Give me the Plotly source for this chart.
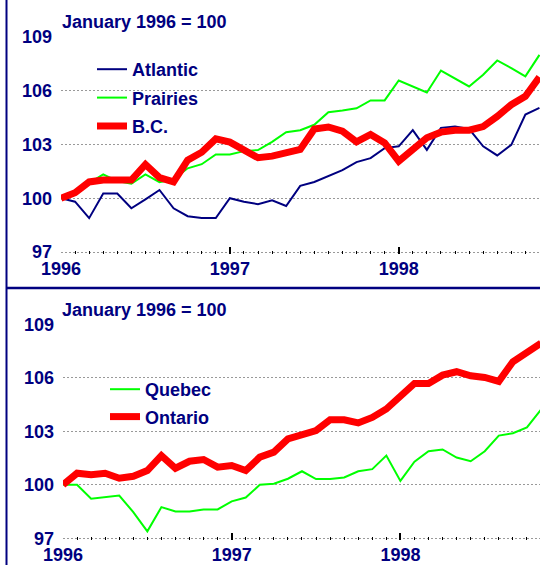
import plotly.graph_objects as go

# Month index: 0 = January 1996
months = list(range(35))

atlantic = [100.0, 99.81, 98.89, 100.26, 100.26, 99.44, 99.94, 100.46, 99.44, 99.0,
            98.9, 98.9, 100.0, 99.8, 99.67, 99.89, 99.57, 100.69, 100.91, 101.24,
            101.57, 102.02, 102.24, 102.8, 102.9, 103.8, 102.7, 103.93, 104.0, 103.87,
            102.9, 102.39, 102.98, 104.67, 105.04]
prairies = [100.0, 100.3, 100.85, 101.33, 100.96, 100.81, 101.33, 100.9, 101.06, 101.67,
            101.9, 102.44, 102.44, 102.63, 102.69, 103.15, 103.69, 103.8, 104.1, 104.8,
            104.9, 105.02, 105.46, 105.46, 106.57, 106.24, 105.9, 107.13, 106.7, 106.24,
            106.89, 107.69, 107.26, 106.8, 108.0]
bc = [100.0, 100.31, 100.91, 101.02, 101.02, 101.02, 101.89, 101.15, 100.91, 102.13,
      102.57, 103.31, 103.13, 102.72, 102.26, 102.35, 102.5, 102.72, 103.87, 103.98,
      103.74, 103.15, 103.56, 103.09, 102.07, 102.72, 103.37, 103.69, 103.8, 103.8,
      104.0, 104.57, 105.22, 105.69, 106.76]
quebec = [100.0, 100.0, 99.22, 99.29, 99.4, 98.47, 97.39, 98.75, 98.51, 98.51,
          98.62, 98.62, 99.07, 99.29, 100.0, 100.06, 100.34, 100.76, 100.32, 100.32,
          100.41, 100.76, 100.88, 101.64, 100.22, 101.3, 101.88, 101.98, 101.53, 101.32,
          101.88, 102.76, 102.89, 103.22, 104.21]
ontario = [100.0, 100.65, 100.56, 100.65, 100.37, 100.48, 100.8, 101.64, 100.93, 101.32,
           101.42, 100.99, 101.08, 100.8, 101.55, 101.83, 102.57, 102.81, 103.04, 103.65,
           103.65, 103.47, 103.78, 104.25, 104.99, 105.68, 105.68, 106.15, 106.34, 106.11,
           106.02, 105.8, 106.9, 107.47, 107.94]

year_tickvals = [0, 12, 24]
year_ticktext = ["1996", "1997", "1998"]
y_tickvals = [97, 100, 103, 106, 109]
y_ticktext = ["97", "100", "103", "106", "109"]
subtitle = "January 1996 = 100"

NAVY = "#000080"
GREEN = "#00FF00"
RED = "#FF0000"
FONT = "Arial, Liberation Sans, sans-serif"
W, H = 540, 565

fig = go.Figure()

fig.add_trace(go.Scatter(x=months, y=atlantic, name="Atlantic", mode="lines", legendgroup="a",
                         line=dict(color=NAVY, width=2), xaxis="x", yaxis="y", legend="legend"))
fig.add_trace(go.Scatter(x=months, y=prairies, name="Prairies", mode="lines", legendgroup="p",
                         line=dict(color=GREEN, width=2), xaxis="x", yaxis="y", legend="legend"))
fig.add_trace(go.Scatter(x=months, y=bc, name="B.C.", mode="lines", legendgroup="b",
                         line=dict(color=RED, width=7), xaxis="x", yaxis="y", legend="legend"))
fig.add_trace(go.Scatter(x=months, y=quebec, name="Quebec", mode="lines", legendgroup="q",
                         line=dict(color=GREEN, width=2), xaxis="x2", yaxis="y2", legend="legend2"))
fig.add_trace(go.Scatter(x=months, y=ontario, name="Ontario", mode="lines", legendgroup="o",
                         line=dict(color=RED, width=7), xaxis="x2", yaxis="y2", legend="legend2"))

tickfont = dict(family=FONT, size=18, color=NAVY, weight="bold")


def xaxis_cfg(left_px, rng_end, anchor):
    return dict(domain=[left_px / W, 1.0], range=[0, rng_end], anchor=anchor,
                tickmode="array", tickvals=year_tickvals, ticktext=year_ticktext,
                ticks="inside", ticklen=7, tickwidth=1.5, tickcolor="black",
                minor=dict(tickmode="linear", tick0=0, dtick=1, ticks="inside",
                           ticklen=3, tickwidth=1, tickcolor="black", showgrid=False),
                showgrid=False, zeroline=False, showline=False, automargin=False,
                tickfont=tickfont, ticklabelstandoff=2)


def yaxis_cfg(top_px, bottom_px, anchor):
    return dict(domain=[1 - bottom_px / H, 1 - top_px / H], range=[96.9, 109.0],
                anchor=anchor, tickmode="array", tickvals=y_tickvals, ticktext=y_ticktext,
                ticks="", showgrid=True, gridcolor="#999999", gridwidth=1,
                griddash="2px,2px", zeroline=False, showline=False, automargin=False,
                tickfont=tickfont, ticklabelstandoff=8)


legend_font = dict(family=FONT, size=18, color=NAVY, weight="bold")

fig.update_layout(
    width=W, height=H,
    margin=dict(l=0, r=0, t=0, b=0, pad=0, autoexpand=False),
    paper_bgcolor="white", plot_bgcolor="white",
    xaxis=xaxis_cfg(61, 34.04, "y"),
    yaxis=yaxis_cfg(37, 253.8, "x"),
    xaxis2=xaxis_cfg(63, 33.93, "y2"),
    yaxis2=yaxis_cfg(324.3, 540.1, "x2"),
    showlegend=True,
    legend=dict(x=92 / W, y=1 - 51 / H, xanchor="left", yanchor="top",
                bgcolor="rgba(0,0,0,0)", borderwidth=0, tracegroupgap=2,
                font=legend_font),
    legend2=dict(x=105 / W, y=1 - 371 / H, xanchor="left", yanchor="top",
                 bgcolor="rgba(0,0,0,0)", borderwidth=0, tracegroupgap=1,
                 font=legend_font),
)

for ytop in (22, 310):
    fig.add_annotation(text=subtitle, xref="paper", yref="paper",
                       x=60 / W, y=1 - ytop / H, xanchor="left", yanchor="middle",
                       showarrow=False, font=legend_font)

# frame: left border and divider between the panels
fig.add_shape(type="line", xref="paper", yref="paper", x0=6.5 / W, x1=6.5 / W, y0=0, y1=1,
              line=dict(color=NAVY, width=2))
fig.add_shape(type="line", xref="paper", yref="paper", x0=6.5 / W, x1=1, y0=1 - 288 / H,
              y1=1 - 288 / H, line=dict(color=NAVY, width=2.5))

fig.write_html("out.html", config={"displayModeBar": False},
               post_script="document.body.style.margin='0';")
